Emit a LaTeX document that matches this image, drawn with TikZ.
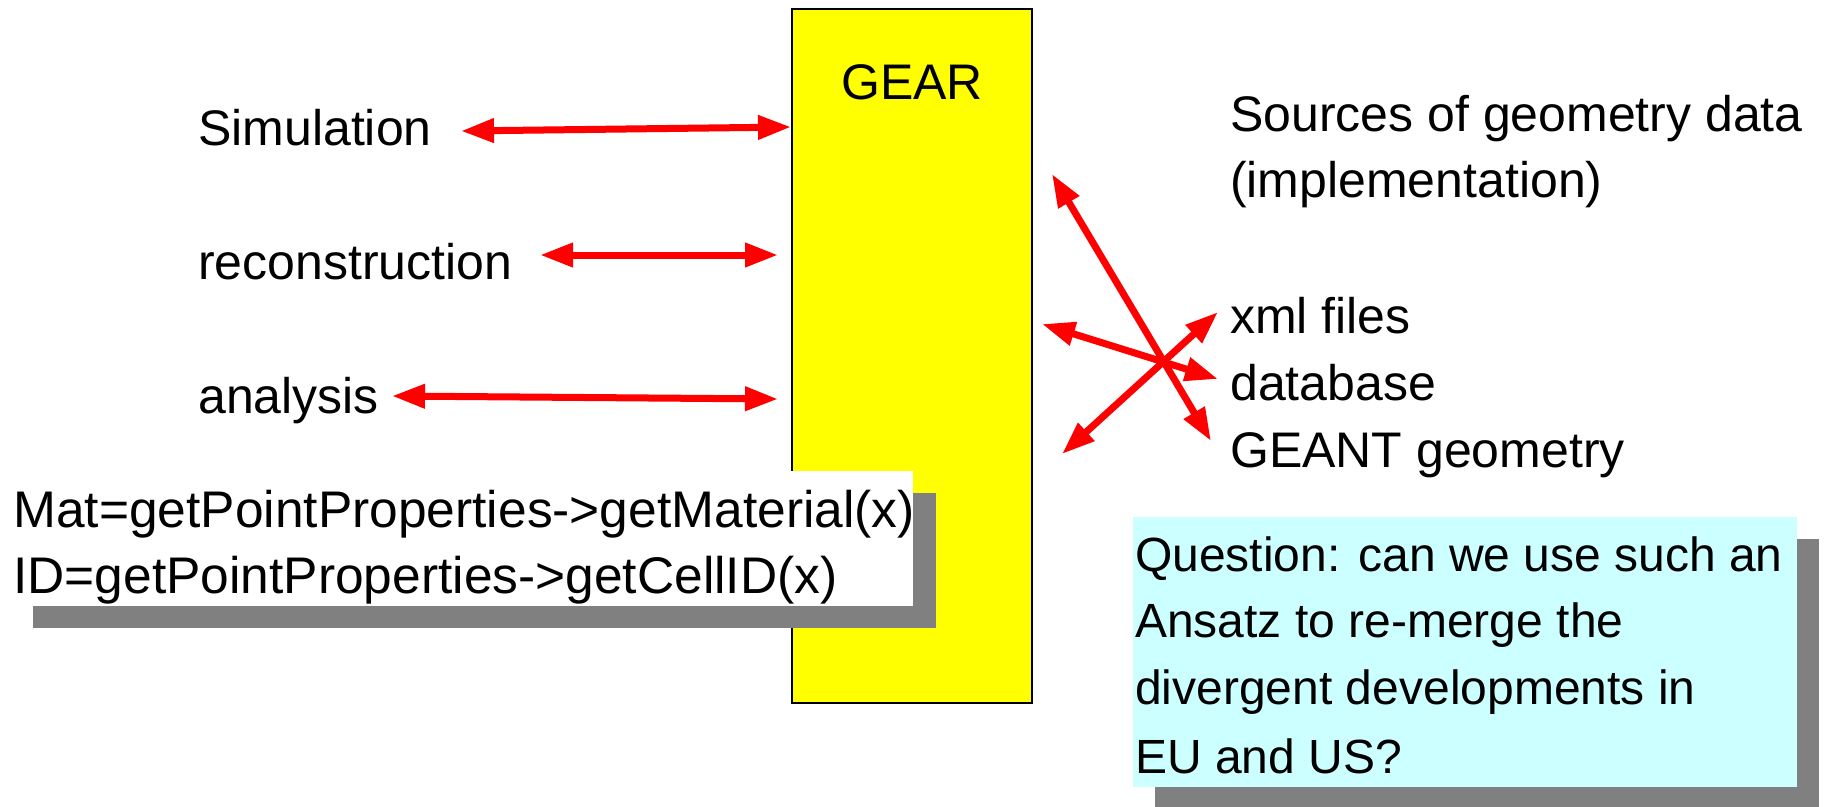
\documentclass[tikz,border=0pt]{standalone}
\usepackage{fontspec}
\setmainfont{Liberation Sans}
\usetikzlibrary{arrows.meta}
\definecolor{gearyellow}{HTML}{FFFF00}
\definecolor{noteblue}{HTML}{CCFFFF}
\definecolor{shade}{HTML}{808080}
\tikzset{
  lbl/.style={anchor=base west, inner sep=0pt, font=\fontsize{50}{60}\selectfont},
  codelbl/.style={anchor=base west, inner sep=0pt, font=\fontsize{51.5}{60}\selectfont},
  qlbl/.style={anchor=base west, inner sep=0pt, font=\fontsize{48}{58}\selectfont},
  panel/.style={anchor=north west, inner sep=0pt, outer sep=0pt},
  twoway/.style={draw=red, line width=7pt,
    {Triangle[length=33pt,width=23pt]}-{Triangle[length=33pt,width=23pt]}},
}
\begin{document}
\begin{tikzpicture}[x=1pt, y=-1pt]
\useasboundingbox[fill=white] (0,0) rectangle (1835,806);

% central GEAR block
\node[panel, draw=black, line width=1.2pt, fill=gearyellow,
      minimum width=240pt, minimum height=694pt] (gear) at (792,9) {};
\node[lbl, anchor=base] (geartitle) at (912,99) {GEAR};

% clients on the left
\node[lbl] (sim) at (198,145) {Simulation};
\node[lbl] (reco) at (198,279) {reconstruction};
\node[lbl] (ana) at (198,413) {analysis};

\coordinate (simL) at (461,131);  \coordinate (simR) at (791,127);
\coordinate (recoL) at (540,255); \coordinate (recoR) at (778,255);
\coordinate (anaL) at (392,396);  \coordinate (anaR) at (778,399);
\draw[twoway] (simL) -- (simR);
\draw[twoway] (recoL) -- (recoR);
\draw[twoway] (anaL) -- (anaR);

% geometry sources on the right
\node[lbl] (src1) at (1230,131) {Sources of geometry data};
\node[lbl] (src2) at (1230,197) {(implementation)};
\node[lbl] (xml) at (1230,333) {xml files};
\node[lbl] (db) at (1230,400) {database};
\node[lbl] (geant) at (1230,467) {GEANT geometry};

\coordinate (aTop) at (1052,174);  \coordinate (aBot) at (1211,441);
\coordinate (bLeft) at (1042,324); \coordinate (bRight) at (1218,379);
\coordinate (cLow) at (1062,454);  \coordinate (cHigh) at (1218,312);
\draw[twoway] (aTop) -- (aBot);
\draw[twoway] (bLeft) -- (bRight);
\draw[twoway] (cLow) -- (cHigh);

% code example with drop shadow
\node[panel, fill=shade, minimum width=903pt, minimum height=135pt] (codeshadow) at (33,493) {};
\node[panel, fill=white, minimum width=903pt, minimum height=135pt] (codebox) at (10,471) {};
\node[codelbl] (code1) at (13,527) {Mat=getPointProperties->getMaterial(x)};
\node[codelbl] (code2) at (13,593) {ID=getPointProperties->getCellID(x)};

% question note with drop shadow
\node[panel, fill=shade, minimum width=664pt, minimum height=270pt] (qshadow) at (1155,539) {};
\node[panel, fill=noteblue, minimum width=664pt, minimum height=270pt] (qbox) at (1133,517) {};
\node[qlbl] (q1) at (1135,571) {Question: can we use such an};
\node[qlbl] (q2) at (1135,637) {Ansatz to re-merge the};
\node[qlbl] (q3) at (1135,704) {divergent developments in};
\node[qlbl] (q4) at (1135,773) {EU and US?};
\end{tikzpicture}
\end{document}
